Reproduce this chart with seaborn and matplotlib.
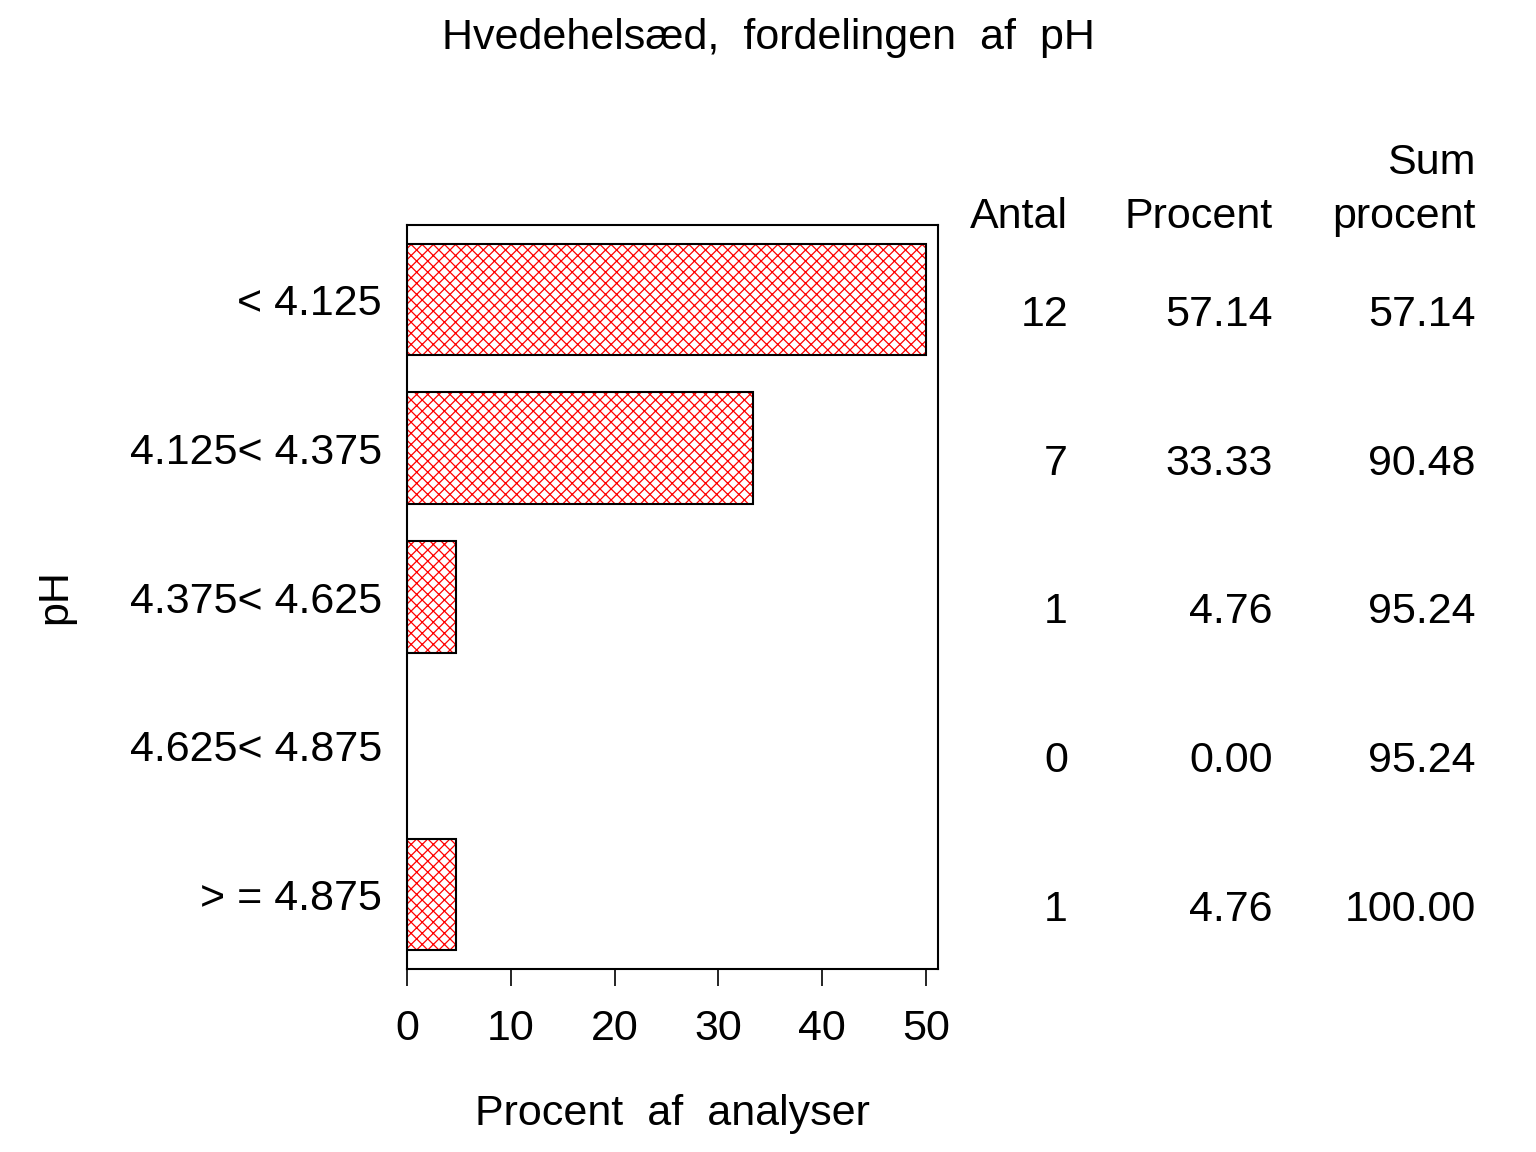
import matplotlib
matplotlib.use("Agg")
import matplotlib.pyplot as plt
import matplotlib.transforms as mtransforms
from matplotlib.patches import Rectangle
import seaborn as sns
import pandas as pd

# ---- data ----
categories = ["< 4.125", "4.125< 4.375", "4.375< 4.625", "4.625< 4.875", "> = 4.875"]
bar_lengths = [50.0, 33.33, 4.76, 0.0, 4.76]   # bar lengths as drawn (first bar clipped at 50)
antal = ["12", "7", "1", "0", "1"]
procent = ["57.14", "33.33", "4.76", "0.00", "4.76"]
sum_procent = ["57.14", "90.48", "95.24", "95.24", "100.00"]
xticks = [0, 10, 20, 30, 40, 50]
title = "Hvedehelsæd,  fordelingen  af  pH"
xlabel = "Procent  af  analyser"
ylabel = "pH"
col_headers = ["Antal", "Procent", "Sum\nprocent"]

sns.set_style("white")
plt.rcParams["font.family"] = ["Liberation Sans", "DejaVu Sans"]
plt.rcParams["hatch.color"] = "red"
plt.rcParams["hatch.linewidth"] = 0.9
for k in ["text.color", "axes.labelcolor", "xtick.color", "ytick.color"]:
    plt.rcParams[k] = "black"

FS = 31

df = pd.DataFrame({"pH": categories, "pct": bar_lengths})

fig = plt.figure(figsize=(15.36, 11.52), dpi=100)
ax = fig.add_axes([407/1536, 1-969/1152, (938-407)/1536, (969-225)/1152])

sns.barplot(data=df, y="pH", x="pct", orient="h", color="white",
            edgecolor="red", linewidth=0, width=0.75, ax=ax, saturation=1)
for p in list(ax.patches):
    p.set_hatch("xxx")
    p.set_edgecolor("red")
    p.set_linewidth(0)
    if p.get_width() > 0:
        ax.add_patch(Rectangle((p.get_x(), p.get_y()), p.get_width(), p.get_height(),
                               fill=False, edgecolor="black", linewidth=1.5, zorder=3))

ax.set_xlim(0, 51.15)
ax.set_ylim(4.5, -0.5)
ax.set_xticks(xticks)
ax.set_xticklabels([str(t) for t in xticks], fontsize=FS)
ax.tick_params(axis="x", direction="out", length=12, width=1.2, pad=17, bottom=True, colors="black")
ax.tick_params(axis="y", length=0, pad=18, labelsize=FS)
for s in ax.spines.values():
    s.set_visible(True)
    s.set_color("black")
    s.set_linewidth(1.5)

ax.set_xlabel(xlabel, fontsize=FS, labelpad=32)
ax.set_ylabel(ylabel, fontsize=FS)
ax.yaxis.set_label_coords(-0.625, 0.5)

fig.text(0.5, 1-38/1152, title, ha="center", va="center", fontsize=FS)

# table to the right
col_x = [1068/1536, 1273/1536, 1476/1536]
header_base = 1-228/1152
for x, h in zip(col_x, col_headers):
    fig.text(x, header_base, h, ha="right", va="baseline", fontsize=FS, linespacing=1.45)

trans = mtransforms.blended_transform_factory(fig.transFigure, ax.transData)
trans = mtransforms.offset_copy(trans, fig=fig, x=0, y=-19, units="points")
for i in range(len(categories)):
    for x, col in zip(col_x, [antal, procent, sum_procent]):
        ax.text(x, i, col[i], transform=trans, ha="right", va="baseline", fontsize=FS,
                clip_on=False)

fig.savefig("out.png", dpi=100)
